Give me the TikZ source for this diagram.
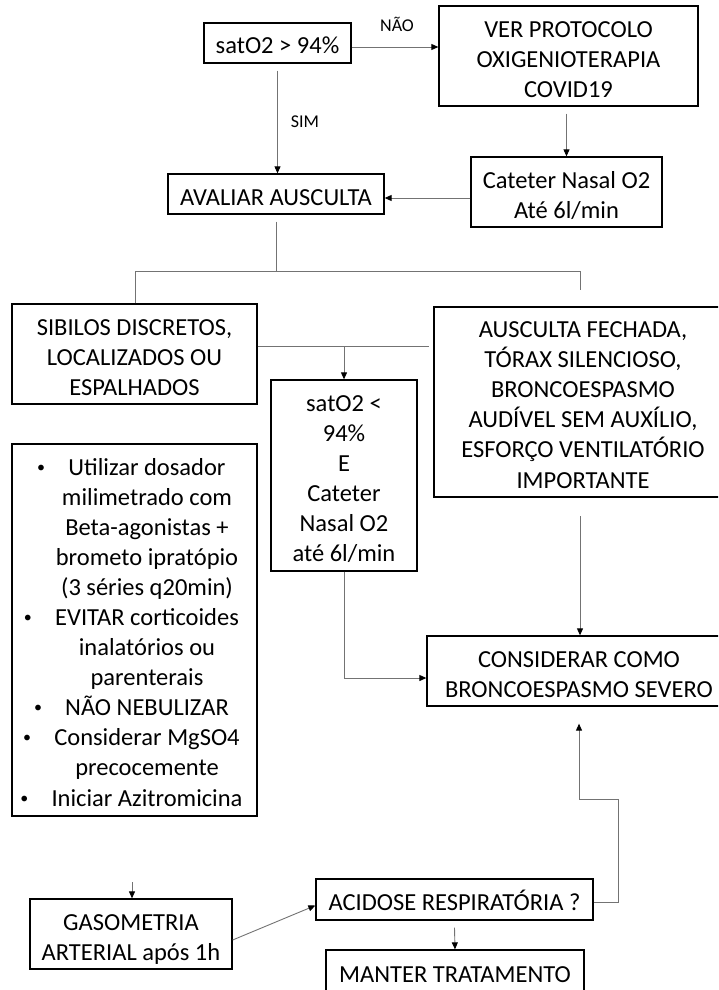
\documentclass[tikz,border=0pt]{standalone}
\usepackage{fontspec}
\setmainfont{Carlito}
\usetikzlibrary{arrows.meta,calc}
\newcommand\bxstrut{\rule[-4pt]{0pt}{30pt}}
\begin{document}
\begin{tikzpicture}[x=1pt,y=-1pt,
  box/.style={draw=black,line width=1.3pt,align=center,inner sep=0pt,font=\fontsize{24.5}{30}\selectfont},
  conn/.style={draw=black!55,line width=0.9pt},
  arr/.style={conn,-{Triangle[length=7pt,width=6pt,color=black]}},
  lab/.style={font=\fontsize{18}{21}\selectfont,inner sep=0pt},
  bl/.style={font=\fontsize{24.5}{30}\selectfont,inner sep=0pt,anchor=base},
  dot/.style={font=\fontsize{16}{19}\selectfont,inner sep=0pt,anchor=base},
]
\useasboundingbox (0,0) rectangle (718,990);
\clip (0,0) rectangle (718,990);

% boxes
\node[box,minimum width=147pt,minimum height=40pt] (sat) at (277.5,43) {\bxstrut satO2 > 94\%};
\node[box,minimum width=259pt,minimum height=100pt] (ver) at (568.5,56) {\bxstrut VER PROTOCOLO\\OXIGENIOTERAPIA\\COVID19\bxstrut};
\node[box,minimum width=191pt,minimum height=70pt] (cat) at (566.5,192) {\bxstrut Cateter Nasal O2\\Até 6l/min\bxstrut};
\node[box,minimum width=216pt,minimum height=40pt] (av) at (276,194) {\bxstrut AVALIAR AUSCULTA};
\node[box,minimum width=245pt,minimum height=100pt] (sib) at (134.5,354) {\bxstrut SIBILOS DISCRETOS,\\LOCALIZADOS OU\\ESPALHADOS\bxstrut};
\node[box,minimum width=298pt,minimum height=190pt] (aus) at (583,402) {\bxstrut AUSCULTA FECHADA,\\TÓRAX SILENCIOSO,\\BRONCOESPASMO\\AUDÍVEL SEM AUXÍLIO,\\ESFORÇO VENTILATÓRIO\\IMPORTANTE\bxstrut};
\node[box,minimum width=146pt,minimum height=191pt] (sat2) at (344,475.5) {\bxstrut satO2 <\\94\%\\E\\Cateter\\Nasal O2\\até 6l/min\bxstrut};
\node[box,minimum width=245pt,minimum height=372pt] (bul) at (134.5,630) {};
\node[box,minimum width=304pt,minimum height=70pt] (cons) at (579,671) {\bxstrut CONSIDERAR COMO\\BRONCOESPASMO SEVERO\bxstrut};
\node[box,minimum width=202pt,minimum height=70pt] (gaso) at (131,934) {\bxstrut GASOMETRIA\\ARTERIAL após 1h\bxstrut};
\node[box,minimum width=277pt,minimum height=41pt] (acid) at (454.5,899.5) {\bxstrut ACIDOSE RESPIRATÓRIA ?};
\node[box,minimum width=258pt,minimum height=42pt] (man) at (455,971) {\bxstrut MANTER TRATAMENTO};

% bullet list
\node[bl] (b1) at (147,475) {Utilizar dosador};
\node[bl] (b2) at (147,505) {milimetrado com};
\node[bl] (b3) at (147,535) {Beta-agonistas +};
\node[bl] (b4) at (147,565) {brometo ipratópio};
\node[bl] (b5) at (147,595) {(3 séries q20min)};
\node[bl] (b6) at (147,625) {EVITAR corticoides};
\node[bl] (b7) at (147,655) {inalatórios ou};
\node[bl] (b8) at (147,685) {parenterais};
\node[bl] (b9) at (147,715) {NÃO NEBULIZAR};
\node[bl] (b10) at (147,745) {Considerar MgSO4};
\node[bl] (b11) at (147,775) {precocemente};
\node[bl] (b12) at (147,806) {Iniciar Azitromicina};
\node[dot] (d1) at ($(b1.base west)+(-27,-3)$) {•};
\node[dot] (d6) at ($(b6.base west)+(-27,-3)$) {•};
\node[dot] (d9) at ($(b9.base west)+(-27,-3)$) {•};
\node[dot] (d10) at ($(b10.base west)+(-27,-3)$) {•};
\node[dot] (d12) at ($(b12.base west)+(-27,-3)$) {•};

% labels
\node[lab] (nao) at (397,24) {NÃO};
\node[lab] (sim) at (305,122) {SIM};

% connectors
\draw[arr] ($(sat.east)+(0,4)$) -- ($(sat.east -| ver.west)+(0,4)$);
\draw[arr] ($(sat.south)+(0,7)$) -- (sat.south |- av.north);
\draw[arr] ($(cat.north |- ver.south)+(0,7)$) -- (cat.north);
\draw[arr] ($(cat.west)+(0,6)$) -- ($(cat.west -| av.east)+(0,6)$);

\coordinate (jl) at (135,271);
\coordinate (jr) at (580,271);
\coordinate (je) at (580,290);
\draw[conn] ($(av.south)+(0,7)$) -- (av.south |- jl);
\draw[conn] (sib.north -| jl) -- (jl) -- (jr) -- (je);

\coordinate (h) at ($(sib.east)+(0,-8)$);
\draw[conn] (h) -- ($(h -| aus.west)+(-4,0)$);
\draw[arr] (h -| sat2.north) -- (sat2.north);

\coordinate (cw) at ($(cons.west)+(0,7)$);
\draw[arr] (sat2.south) |- (cw);

\coordinate (ausd) at (580,516);
\draw[arr] (ausd) -- (ausd |- cons.north);

\coordinate (k1) at (618,799);
\draw[arr] ($(acid.east)+(0,3)$) -| (k1) -| ($(cons.south)+(0,17)$);

\coordinate (gtop) at (132,882);
\draw[arr] (gtop) -- (gtop |- gaso.north);
\draw[arr] ($(gaso.east)+(0,6)$) -- ($(acid.west)+(0,6)$);
\draw[arr] ($(acid.south)+(0,7)$) -- (man.north);
\end{tikzpicture}
\end{document}
